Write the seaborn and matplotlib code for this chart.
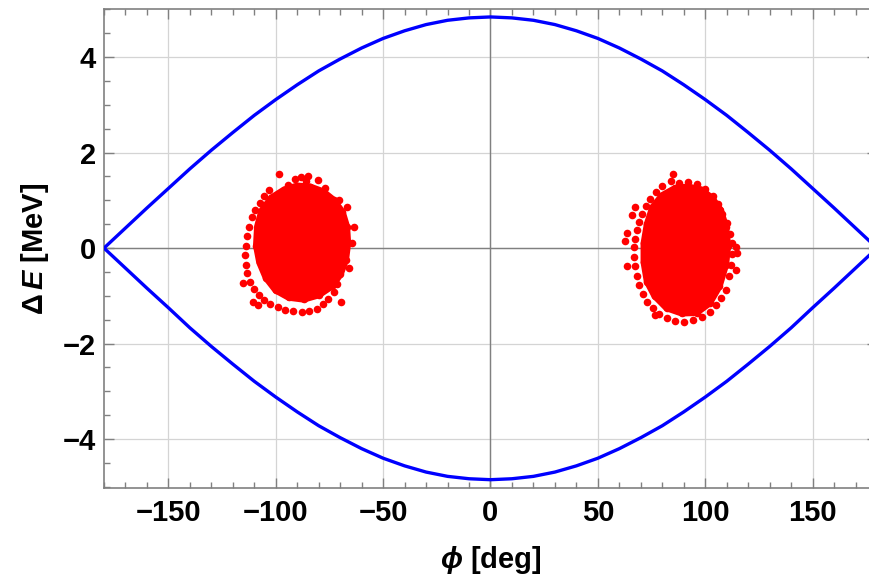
import numpy as np
import pandas as pd
import matplotlib
matplotlib.use('Agg')
import matplotlib.pyplot as plt
from matplotlib.ticker import MultipleLocator
import seaborn as sns

# separatrix, every 10 deg
phi_sep = [-180, -170, -160, -150, -140, -130, -120, -110, -100, -90,
           -80, -70, -60, -50, -40, -30, -20, -10, 0,
           10, 20, 30, 40, 50, 60, 70, 80, 90,
           100, 110, 120, 130, 140, 150, 160, 170, 180]
de_upper = [0.0, 0.42, 0.84, 1.25, 1.66, 2.05, 2.42, 2.78, 3.11, 3.42,
            3.71, 3.96, 4.19, 4.39, 4.55, 4.68, 4.77, 4.82, 4.84,
            4.82, 4.77, 4.68, 4.55, 4.39, 4.19, 3.96, 3.71, 3.42,
            3.11, 2.78, 2.42, 2.05, 1.66, 1.25, 0.84, 0.42, 0.0]
de_lower = [0.0, -0.42, -0.84, -1.25, -1.67, -2.06, -2.43, -2.79, -3.12, -3.43,
            -3.72, -3.97, -4.20, -4.40, -4.56, -4.69, -4.78, -4.83, -4.85,
            -4.83, -4.78, -4.69, -4.56, -4.40, -4.20, -3.97, -3.72, -3.43,
            -3.12, -2.79, -2.43, -2.06, -1.67, -1.25, -0.84, -0.42, 0.0]

# dense core outlines of the two bunches
core_l_phi = [-96, -90, -84, -78, -73, -69, -67, -66.5, -67.5, -70, -74, -80, -87, -94,
              -100, -104.5, -107.5, -109, -108.5, -106.5, -102]
core_l_de = [1.22, 1.30, 1.28, 1.18, 1.00, 0.75, 0.45, 0.10, -0.25, -0.55, -0.80, -0.98, -1.07, -1.03,
             -0.88, -0.62, -0.30, 0.05, 0.45, 0.78, 1.05]
core_r_phi = [92, 86, 80, 75.5, 73, 71.5, 71.5, 73, 76.5, 82, 89, 96, 102, 106.5,
              109.5, 110.5, 109.5, 107, 103, 98]
core_r_de = [1.28, 1.25, 1.10, 0.85, 0.50, 0.10, -0.30, -0.70, -1.00, -1.25, -1.36, -1.35, -1.15, -0.80,
             -0.35, 0.05, 0.45, 0.80, 1.05, 1.22]

# loose particles around the cores
halo_l_phi = [-103, -105.5, -107.5, -109.5, -111, -112.5, -113.5, -114, -114.3, -114,
              -113.3, -112, -110.3, -108, -105.5, -102.5, -99, -95.5, -92, -88,
              -84.5, -81, -78, -75.5, -73, -71.5, -70.5, -69.8, -69.5,
              -98.4, -88.3, -84.9, -80.3, -94.5, -66.6, -63.6, -65.9, -69.7, -115.4,
              -110.8, -108.5, -70.5, -74.4, -86, -91, -77, -64.5]
halo_l_de = [1.22, 1.10, 0.95, 0.80, 0.65, 0.45, 0.25, 0.05, -0.15, -0.35,
             -0.52, -0.70, -0.85, -0.98, -1.08, -1.17, -1.24, -1.30, -1.32, -1.33,
             -1.32, -1.27, -1.18, -1.06, -0.92, -0.75, -0.55, -0.35, -0.15,
             1.56, 1.49, 1.51, 1.43, 1.32, 0.87, 0.45, -0.42, -1.12, -0.73,
             -1.12, -1.19, 1.01, 1.01, 1.40, 1.45, 1.25, 0.10]
halo_r_phi = [84, 80, 77, 74.5, 72.5, 70.5, 69, 68, 67.3, 66.8,
              66.8, 67.2, 68, 69.3, 71, 73, 75.5, 78.5, 82, 86,
              90, 94.5, 98.5, 102, 105, 107.5, 109.5,
              88, 92, 96, 100, 103.5, 106, 108, 110, 111.5, 112.5, 112.5, 112, 111,
              85.2, 63.5, 62.8, 63.5, 114.2, 114.9, 114.2, 67.4, 65.9, 76.7]
halo_r_de = [1.40, 1.30, 1.18, 1.03, 0.88, 0.72, 0.55, 0.38, 0.20, 0.02,
             -0.18, -0.38, -0.58, -0.78, -0.96, -1.12, -1.26, -1.38, -1.47, -1.52,
             -1.54, -1.50, -1.44, -1.33, -1.20, -1.05, -0.88,
             1.36, 1.38, 1.34, 1.24, 1.10, 0.92, 0.72, 0.52, 0.30, 0.10, -0.12, -0.35, -0.58,
             1.56, 0.31, 0.14, -0.38, -0.45, -0.10, 0.03, 0.87, 0.70, -1.40]

sns.set_style('ticks')
plt.rcParams['font.family'] = ['Liberation Sans', 'DejaVu Sans']
plt.rcParams['mathtext.fontset'] = 'custom'
plt.rcParams['mathtext.rm'] = 'Liberation Sans:bold'
plt.rcParams['mathtext.bf'] = 'Liberation Sans:bold'
plt.rcParams['mathtext.it'] = 'Liberation Sans:bold:italic'

fig = plt.figure(figsize=(8.7, 5.82), dpi=100)
ax = fig.add_axes([104 / 870, 1 - 488.3 / 582, 773 / 870, 479 / 582])

ax.grid(True, which='major', color='#d4d4d4', lw=0.9)
ax.axhline(0, color='#808080', lw=1.0, zorder=1)
ax.axvline(0, color='#808080', lw=1.0, zorder=1)

sep = pd.DataFrame({'phi': phi_sep, 'up': de_upper, 'low': de_lower})
sns.lineplot(data=sep, x='phi', y='up', color='#0000ff', lw=2.4, ax=ax, zorder=3)
sns.lineplot(data=sep, x='phi', y='low', color='#0000ff', lw=2.4, ax=ax, zorder=3)

red = '#ff0000'
ax.fill(core_l_phi, core_l_de, color=red, lw=5, zorder=2)
ax.fill(core_r_phi, core_r_de, color=red, lw=5, zorder=2)
pts = pd.DataFrame({'phi': core_l_phi + core_r_phi + halo_l_phi + halo_r_phi,
                    'de': core_l_de + core_r_de + halo_l_de + halo_r_de})
sns.scatterplot(data=pts, x='phi', y='de', color=red, s=30, linewidth=0, ax=ax, zorder=2)

ax.set_xlim(-180, 180)
ax.set_ylim(-5.03, 5.0)
ax.xaxis.set_major_locator(MultipleLocator(50))
ax.xaxis.set_minor_locator(MultipleLocator(10))
ax.yaxis.set_major_locator(MultipleLocator(2))
ax.yaxis.set_minor_locator(MultipleLocator(0.5))
ax.tick_params(which='both', direction='in', top=True, right=True, color='#808080',
               labelsize=21, labelcolor='black', width=1.0)
ax.tick_params(which='major', length=7)
ax.tick_params(which='minor', length=4)
ax.tick_params(axis='x', which='major', pad=8)
ax.tick_params(axis='y', which='major', pad=6)
for lab in ax.get_xticklabels() + ax.get_yticklabels():
    lab.set_fontweight('bold')
for sp in ax.spines.values():
    sp.set_color('#808080')
    sp.set_linewidth(1.2)

ax.set_xlabel(r'$\mathit{\phi}$ [deg]', fontsize=21, fontweight='bold', color='black', labelpad=12)
ax.set_ylabel(r'$\Delta\,\mathit{E}$ [MeV]', fontsize=21, fontweight='bold', color='black', labelpad=8)

fig.savefig('out.png', dpi=100)
